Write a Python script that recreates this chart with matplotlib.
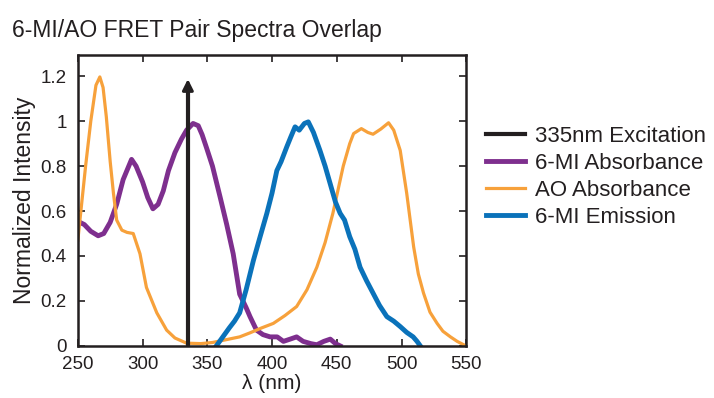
import matplotlib
matplotlib.use("Agg")
import matplotlib.pyplot as plt
from matplotlib.ticker import FormatStrFormatter

plt.rcParams["font.family"] = ["Liberation Sans", "DejaVu Sans"]

# 6-MI absorbance
mi_abs_nm = [251.5, 255, 260, 265.7, 270, 275, 280, 285, 291.5, 295, 300, 304, 308, 312,
             316, 320, 325, 330, 334, 339, 343, 346, 349.5, 354, 360, 365, 370, 375,
             380, 383, 388, 393, 398.5, 404, 408.8, 414, 419, 424, 430, 434.6, 440, 445,
             449, 452.6]
mi_abs = [0.55, 0.54, 0.51, 0.49, 0.50, 0.55, 0.63, 0.74, 0.83, 0.80, 0.73, 0.66, 0.61, 0.63,
          0.69, 0.78, 0.86, 0.92, 0.96, 0.99, 0.98, 0.94, 0.88, 0.80, 0.66, 0.54, 0.41, 0.23,
          0.17, 0.13, 0.07, 0.05, 0.04, 0.04, 0.02, 0.03, 0.04, 0.02, 0.01, 0.005, 0.02, 0.03,
          0.01, 0.0]

# AO absorbance
ao_nm = [250, 252, 256, 260, 264, 267, 269.5, 272, 275, 277.5, 280, 284, 288, 292.8, 298,
         303, 311, 318.6, 325, 334, 345, 354, 365, 375, 383, 392, 401, 410, 419, 427, 434.6,
         441, 447, 455, 460, 463, 469, 474, 478, 484, 490, 494, 499, 504, 509.4, 513, 517,
         522, 527.5, 532, 537.8, 543, 548, 550]
ao_abs = [0.47, 0.58, 0.80, 1.0, 1.16, 1.197, 1.15, 1.02, 0.82, 0.68, 0.56, 0.515, 0.505,
          0.50, 0.41, 0.26, 0.147, 0.07, 0.035, 0.012, 0.010, 0.015, 0.028, 0.04, 0.058,
          0.08, 0.10, 0.135, 0.175, 0.25, 0.35, 0.46, 0.59, 0.80, 0.90, 0.945, 0.967, 0.95,
          0.942, 0.965, 0.993, 0.96, 0.87, 0.68, 0.44, 0.32, 0.235, 0.15, 0.10, 0.065, 0.04,
          0.02, 0.005, 0.0]

# 6-MI emission
mi_em_nm = [357, 362, 367, 371, 375, 380, 385.6, 391, 396, 400, 403.7, 407, 411.4, 414.5,
            417.8, 421, 425, 428, 432, 437, 441, 445, 449, 452.6, 456, 460, 464, 468, 473,
            478, 483, 488.7, 494, 499, 504, 509, 512, 514.5]
mi_em = [0.0, 0.04, 0.08, 0.11, 0.147, 0.25, 0.38, 0.49, 0.59, 0.68, 0.78, 0.82, 0.886,
         0.93, 0.975, 0.96, 0.99, 0.997, 0.95, 0.87, 0.80, 0.72, 0.64, 0.59, 0.56, 0.486,
         0.43, 0.35, 0.29, 0.235, 0.18, 0.13, 0.11, 0.086, 0.06, 0.04, 0.02, 0.0]

excitation_nm = 335
excitation_top = 1.2

xticks = [250, 300, 350, 400, 450, 500, 550]
yticks = [0, 0.2, 0.4, 0.6, 0.8, 1.0, 1.2]

ink = "#231f20"
fig = plt.figure(figsize=(7.14, 3.98), dpi=100)
ax = fig.add_axes([0.109, 0.131, 0.544, 0.731])

ax.plot([excitation_nm, excitation_nm], [0, excitation_top - 0.05], color=ink,
        linewidth=3.0, label="335nm Excitation", zorder=5)
ax.annotate("", xy=(excitation_nm, excitation_top), xytext=(excitation_nm, excitation_top - 0.08),
            arrowprops=dict(arrowstyle="-|>", color=ink, lw=2.2, mutation_scale=16),
            zorder=6)
ax.plot(mi_abs_nm, mi_abs, color="#7e2f8e", linewidth=3.5, label="6-MI Absorbance")
ax.plot(ao_nm, ao_abs, color="#f7a13b", linewidth=2.3, label="AO Absorbance")
ax.plot(mi_em_nm, mi_em, color="#0a72ba", linewidth=3.5, label="6-MI Emission")

ax.set_xlim(250, 550)
ax.set_ylim(0, 1.295)
ax.set_xticks(xticks)
ax.set_yticks(yticks)
ax.yaxis.set_major_formatter(FormatStrFormatter("%g"))
ax.tick_params(direction="in", top=True, right=True, length=5, width=1.2,
               labelsize=13.5, colors=ink)
ax.tick_params(axis="x", pad=7)
ax.tick_params(axis="y", pad=8)
for s in ax.spines.values():
    s.set_linewidth(1.8)
    s.set_color(ink)

ax.set_xlabel("λ (nm)", fontsize=15, color=ink, labelpad=1)
ax.set_ylabel("Normalized Intensity", fontsize=16.5, color=ink, labelpad=3)
fig.text(0.017, 0.907, "6-MI/AO FRET Pair Spectra Overlap", fontsize=16.5, color=ink)

leg = ax.legend(loc="upper left", bbox_to_anchor=(1.01, 0.81), frameon=False,
                fontsize=16, handlelength=1.75, handletextpad=0.45, labelspacing=0.27,
                borderaxespad=0.3)
for t in leg.get_texts():
    t.set_color(ink)

fig.savefig("out.png", dpi=100)
